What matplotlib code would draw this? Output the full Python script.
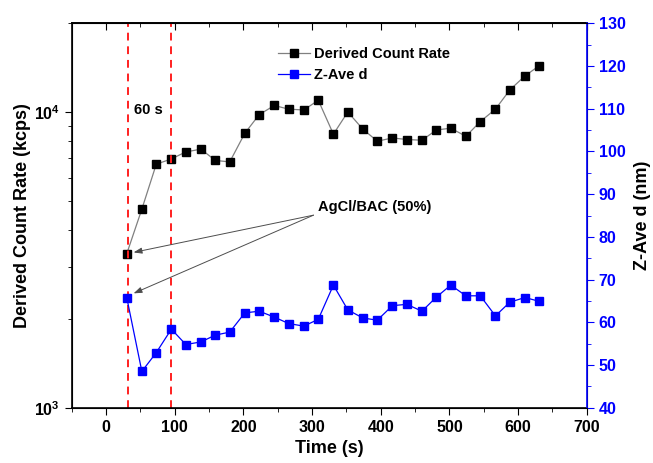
import matplotlib
matplotlib.use("Agg")
import matplotlib.pyplot as plt
from matplotlib.ticker import MultipleLocator, LogLocator, NullFormatter

plt.rcParams['font.family'] = ['Liberation Sans', 'DejaVu Sans']
plt.rcParams['font.weight'] = 'bold'
plt.rcParams['mathtext.fontset'] = 'custom'
plt.rcParams['mathtext.rm'] = 'Liberation Sans:bold'
plt.rcParams['mathtext.default'] = 'rm'

# time (s)
time = [30, 52, 73, 95, 116, 138, 159, 180, 202, 223, 245, 266, 288, 309, 331,
        352, 374, 395, 417, 438, 460, 481, 502, 524, 545, 567, 588, 610, 631]
# derived count rate (kcps)
count_rate = [3320, 4700, 6670, 6950, 7340, 7500, 6870, 6790, 8490, 9820, 10540,
              10240, 10180, 10980, 8430, 10020, 8760, 7980, 8185, 8085, 8040,
              8710, 8830, 8290, 9300, 10240, 11900, 13270, 14380]
# Z-average diameter (nm)
z_ave = [65.8, 48.5, 52.9, 58.4, 54.8, 55.4, 57.0, 57.7, 62.2, 62.6, 61.2, 59.7,
         59.1, 60.7, 68.7, 62.9, 61.0, 60.5, 63.9, 64.2, 62.6, 65.9, 68.7, 66.2,
         66.2, 61.5, 64.7, 65.8, 64.9]
marker_lines = [32, 94]

fig = plt.figure(figsize=(6.53, 4.63), dpi=100)
ax = fig.add_axes([0.110, 0.1194, 0.7885, 0.8303])
ax2 = ax.twinx()

l1, = ax.plot(time, count_rate, color='0.5', lw=0.9, marker='s', ms=5.5,
              mfc='black', mec='black', label='Derived Count Rate')
l2, = ax2.plot(time, z_ave, color='blue', lw=0.9, marker='s', ms=5.5,
               mfc='blue', mec='blue', label='Z-Ave d')

for xv in marker_lines:
    ax.axvline(xv, color='#ff2020', ls=(0, (4, 3)), lw=1.4)

ax.set_yscale('log')
ax.set_xlim(-50, 700)
ax.set_ylim(1e3, 2e4)
ax2.set_ylim(40, 130)

ax.xaxis.set_major_locator(MultipleLocator(100))
ax.xaxis.set_minor_locator(MultipleLocator(50))
ax.yaxis.set_major_locator(LogLocator(base=10, numticks=5))
ax.yaxis.set_minor_locator(LogLocator(base=10, subs=range(2, 10), numticks=20))
ax.yaxis.set_minor_formatter(NullFormatter())
ax2.yaxis.set_major_locator(MultipleLocator(10))
ax2.yaxis.set_minor_locator(MultipleLocator(5))

# top axis with inward ticks, no labels
top = ax.secondary_xaxis('top')
top.xaxis.set_major_locator(MultipleLocator(100))
top.xaxis.set_minor_locator(MultipleLocator(50))
top.tick_params(which='major', direction='in', length=5, labeltop=False)
top.tick_params(which='minor', direction='in', length=3)
top.spines['top'].set_linewidth(1.2)

ax.tick_params(axis='x', which='major', direction='out', length=5, labelsize=11.5)
ax.tick_params(axis='x', which='minor', direction='out', length=3)
ax.tick_params(axis='y', which='major', direction='out', length=5, labelsize=11.5)
ax.tick_params(axis='y', which='minor', direction='out', length=3)
ax2.tick_params(axis='y', which='major', direction='out', length=5, labelsize=11.5,
                colors='blue')
ax2.tick_params(axis='y', which='minor', direction='out', length=3, colors='blue')
ax2.spines['right'].set_color('blue')
ax2.spines['right'].set_linewidth(1.2)
for s in ['left', 'bottom', 'top']:
    ax.spines[s].set_linewidth(1.2)
for lab in ax2.get_yticklabels():
    lab.set_fontweight('bold')

ax.set_xlabel('Time (s)', fontsize=13, fontweight='bold', labelpad=4)
ax.set_ylabel('Derived Count Rate (kcps)', fontsize=13, fontweight='bold', labelpad=2)
ax2.set_ylabel('Z-Ave d (nm)', fontsize=13, fontweight='bold', labelpad=6,
               rotation=90)

ax.text(61, 9600, '60 s', fontsize=10.5, fontweight='bold', ha='center', va='bottom')

arrow = dict(arrowstyle='-|>,head_length=0.5,head_width=0.18', color='0.3', lw=0.7,
             shrinkA=0, shrinkB=0)
ax.annotate('', xy=(40, 3355), xytext=(302, 4484), arrowprops=arrow)
ax.annotate('', xy=(40, 2438), xytext=(302, 4484), arrowprops=arrow)
ax.text(309, 4772, 'AgCl/BAC (50%)', fontsize=10.5, fontweight='bold',
        ha='left', va='center')

ax.legend([l1, l2], ['Derived Count Rate', 'Z-Ave d'], loc='upper left',
          bbox_to_anchor=(0.375, 0.972), frameon=False, fontsize=10.5,
          handlelength=2.2, handletextpad=0.3, labelspacing=0.45)

fig.savefig('out.png', dpi=100)
